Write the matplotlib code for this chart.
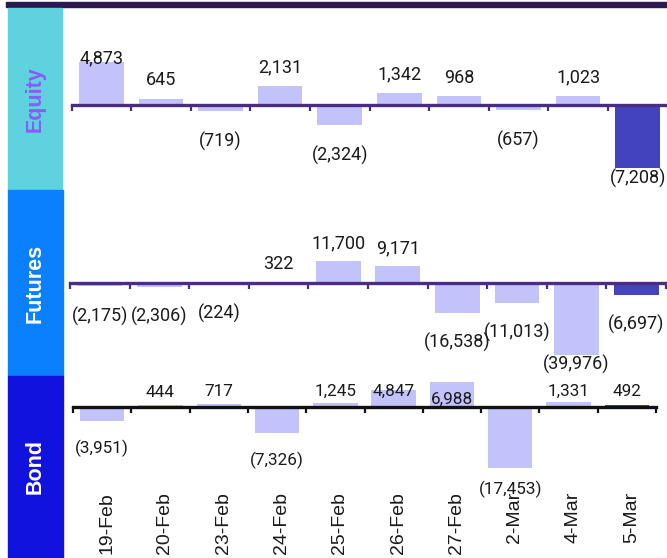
import matplotlib
matplotlib.use("Agg")
import matplotlib.pyplot as plt
from matplotlib.patches import Rectangle
from matplotlib import transforms
import numpy as np

# ---------------- data ----------------
dates = ['19-Feb', '20-Feb', '23-Feb', '24-Feb', '25-Feb', '26-Feb',
         '27-Feb', '2-Mar', '4-Mar', '5-Mar']
equity = [4873, 645, -719, 2131, -2324, 1342, 968, -657, 1023, -7208]
futures = [-2175, -2306, -224, 322, 11700, 9171, -16538, -11013, -39976, -6697]
bond = [-3951, 444, 717, -7326, 1245, 4847, 6988, -17453, 1331, 492]
segments = ['Equity', 'Futures', 'Bond']

# ---------------- style ----------------
W, H = 667, 558
DPI = 100
LIGHT = '#C3C3FC'
DARK = '#4343BE'
PURPLE_AX = '#4A2C83'
band_colors = ['#5FD2E0', '#0A80FF', '#1212DE']
band_text_colors = ['#8B5CF6', '#FFFFFF', '#FFFFFF']

# panel geometry in pixels (top-left origin)
panels = [
    dict(left=71.5, right=667.5, top=8, bottom=190, zero=104.5, ppu=0.00877,
         off_pos=20, off_neg=29, clamp_top=57, clamp_bot=177, gap=15,
         axcolor=PURPLE_AX, font='Roboto', fs=13, width=0.75,
         band=(8, 61.5, 8, 190), text_y=99),
    dict(left=70, right=666, top=191, bottom=375, zero=282.5, ppu=0.001819,
         off_pos=19, off_neg=29, clamp_top=200, clamp_bot=363, gap=15,
         axcolor=PURPLE_AX, font='Roboto', fs=13, width=0.75,
         band=(8, 63, 190.5, 375.5), text_y=283),
    dict(left=73, right=656, top=376, bottom=486, zero=407, ppu=0.003519,
         off_pos=15, off_neg=26, clamp_top=390, clamp_bot=488, gap=15,
         axcolor='#111111', font='Roboto', fs=12.3, width=0.76,
         band=(8, 63, 375.5, 558), text_y=467),
]
series = [equity, futures, bond]
TOL = 5  # px: bars ending this close to the clamp keep labels outside


def fmt(v):
    return f"{v:,}" if v >= 0 else f"({-v:,})"


def label_px(v, p):
    end = p['zero'] - v * p['ppu']
    if v >= 0:
        y = end - p['off_pos']
        if y < p['clamp_top']:
            y = p['clamp_top'] if end > p['clamp_top'] - TOL else end + p['gap']
    else:
        y = end + p['off_neg']
        if y > p['clamp_bot']:
            y = p['clamp_bot'] if end < p['clamp_bot'] + TOL else end - p['gap']
    return y


fig = plt.figure(figsize=(W / DPI, H / DPI), dpi=DPI)
fig.patch.set_facecolor('white')

# top rule
fig.patches.append(Rectangle((6 / W, 1 - 6.5 / H), (W - 6) / W, 4.5 / H,
                             transform=fig.transFigure, color='#2E1850',
                             zorder=0))

x = np.arange(len(dates))
axes = []
for seg, vals, p, bc, tc in zip(segments, series, panels, band_colors,
                                band_text_colors):
    # side band
    bx0, bx1, by0, by1 = p['band']
    fig.patches.append(Rectangle((bx0 / W, 1 - by1 / H), (bx1 - bx0) / W,
                                 (by1 - by0) / H, transform=fig.transFigure,
                                 color=bc, zorder=0))
    fig.text(35 / W, 1 - p['text_y'] / H, seg, rotation=90, ha='center',
             va='center', fontsize=15.5, fontweight='bold', color=tc,
             family=['Liberation Sans', 'DejaVu Sans'])

    ax = fig.add_axes([p['left'] / W, 1 - p['bottom'] / H,
                       (p['right'] - p['left']) / W,
                       (p['bottom'] - p['top']) / H])
    ax.set_facecolor('none')
    ymax = (p['zero'] - p['top']) / p['ppu']
    ymin = -(p['bottom'] - p['zero']) / p['ppu']
    ax.set_xlim(-0.5, len(dates) - 0.5)
    ax.set_ylim(ymin, ymax)

    colors = [LIGHT] * (len(vals) - 1) + [DARK]
    ax.bar(x, vals, width=p['width'], color=colors, edgecolor='none',
           zorder=2)

    for i, v in enumerate(vals):
        ypx = label_px(v, p)
        yv = (p['zero'] - ypx) / p['ppu']
        ax.annotate(fmt(v), (i, yv), xytext=(0, -0.36 * p['fs']),
                    textcoords='offset points', ha='center', va='baseline',
                    fontsize=p['fs'], color='#1A1A1A',
                    family=[p['font'], 'DejaVu Sans'], annotation_clip=False)

    for s in ['left', 'right', 'top']:
        ax.spines[s].set_visible(False)
    ax.spines['bottom'].set_position(('data', 0))
    ax.spines['bottom'].set_color(p['axcolor'])
    ax.spines['bottom'].set_linewidth(2.4)
    ax.spines['bottom'].set_zorder(3)
    ax.set_yticks([])
    ax.set_xticks(np.arange(-0.5, len(dates), 1.0))
    ax.set_xticklabels([])
    ax.tick_params(axis='x', direction='out', length=4.5, width=1.6,
                   color=p['axcolor'])
    axes.append(ax)

# category labels under bond panel
axb = axes[2]
trans = transforms.blended_transform_factory(axb.transData, fig.transFigure)
trans = transforms.offset_copy(trans, fig=fig, x=3.2, y=0, units='points')
for i, d in enumerate(dates):
    axb.text(i, 1 - 492 / H, d, rotation=90, ha='center', va='top',
             fontsize=14, color='#1A1A1A', transform=trans,
             family=['Liberation Sans', 'DejaVu Sans'], clip_on=False)

fig.savefig('out.png', dpi=DPI)
